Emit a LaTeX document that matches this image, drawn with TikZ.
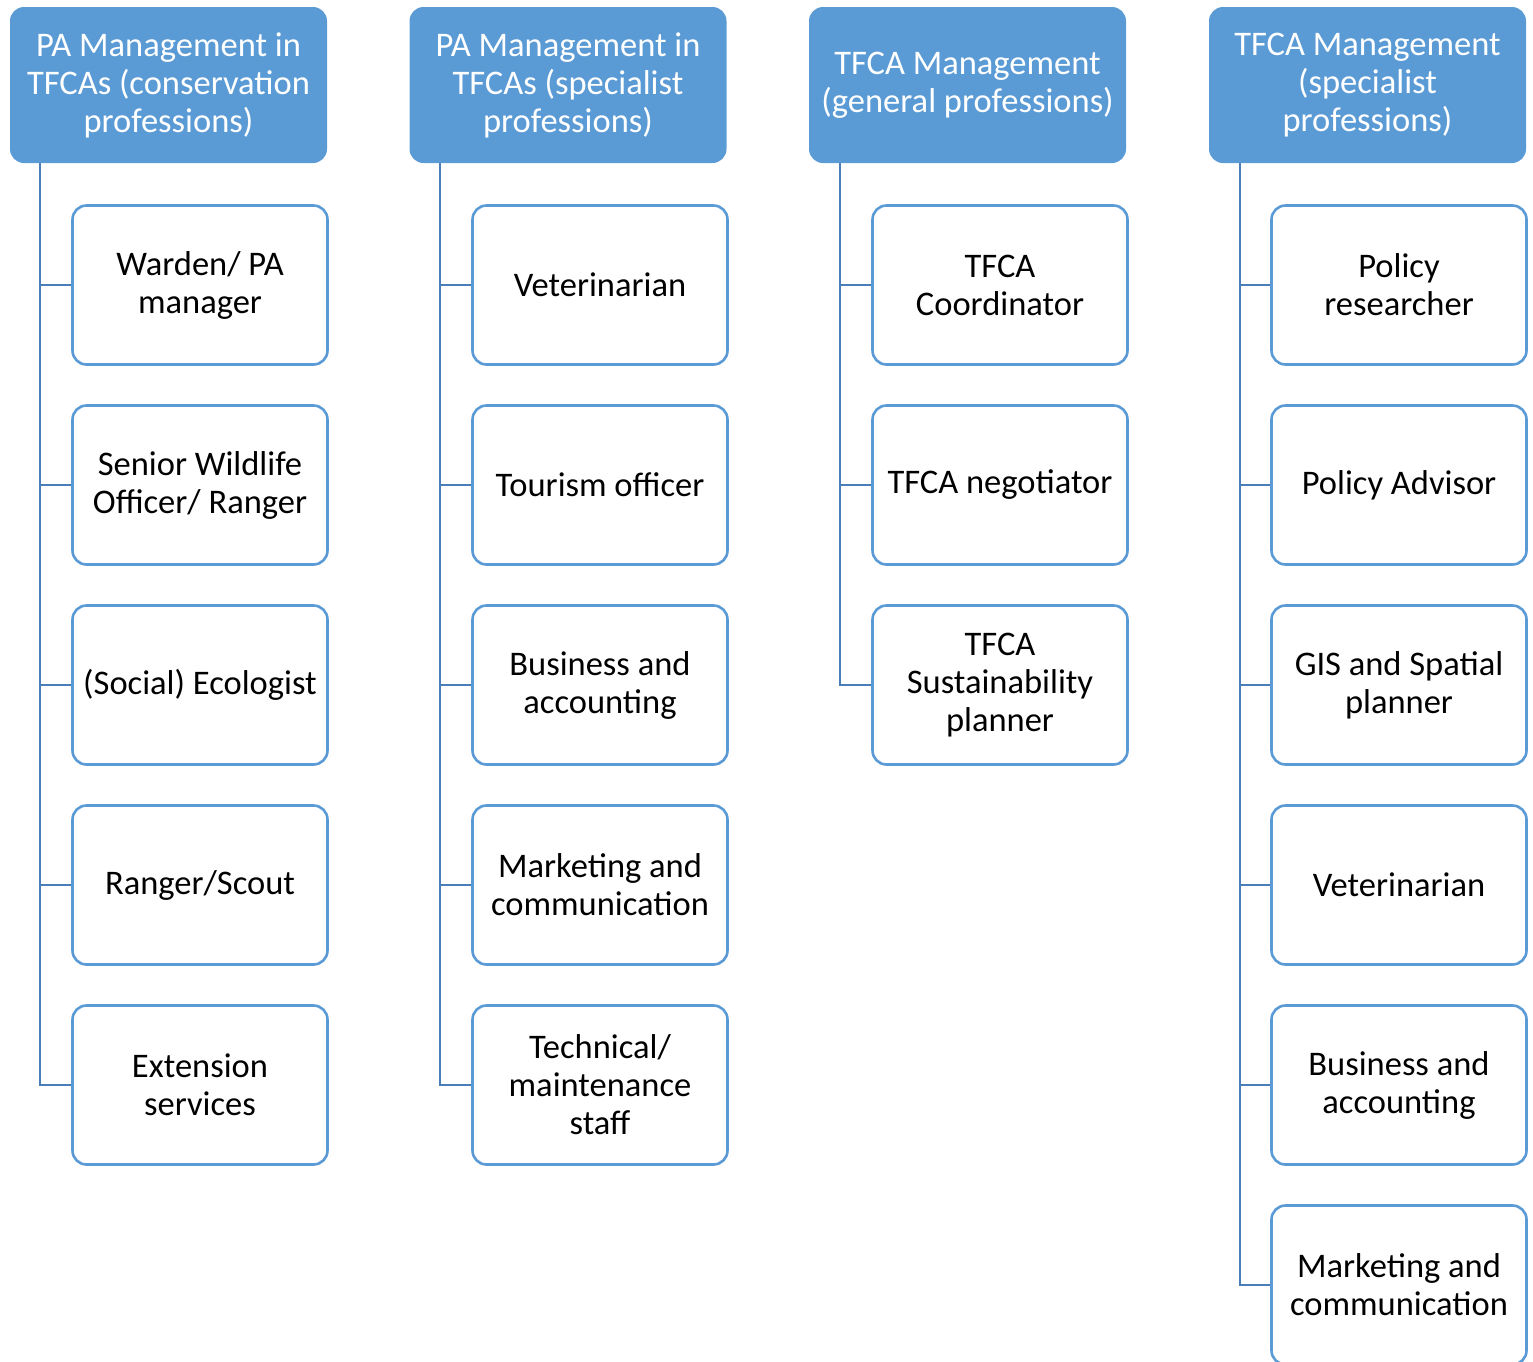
\documentclass[tikz,border=0pt]{standalone}
\usepackage{fontspec}
\setmainfont{Carlito}
\begin{document}
\begin{tikzpicture}[x=1pt,y=-1pt,
  hdr/.style={draw=none,fill=hdrblue,rounded corners=14pt,minimum width=317pt,minimum height=156pt,
    text=white,align=center,font=\fontsize{34.5}{38}\selectfont,inner sep=0pt},
  item/.style={draw=boxblue,line width=2.6pt,fill=white,rounded corners=14pt,minimum width=255pt,minimum height=159pt,
    align=center,font=\fontsize{34.5}{38}\selectfont,inner sep=0pt},
  conn/.style={draw=lineblue,line width=2.8pt}]
\definecolor{hdrblue}{HTML}{5B9BD5}
\definecolor{boxblue}{HTML}{5B9BD5}
\definecolor{lineblue}{HTML}{4A7EBB}
\useasboundingbox (0,0) rectangle (1533,1361);
% headers
\node[hdr] (h1) at (168.5,85) {PA Management in\\TFCAs (conservation\\professions)};
\node[hdr] (h2) at (568,85) {PA Management in\\TFCAs (specialist\\professions)};
\node[hdr] (h3) at (967.5,85) {TFCA Management\\(general professions)};
\node[hdr] (h4) at (1367.5,85) {TFCA Management\\(specialist\\professions)};
% column 1
\node[item] (a1) at (200,285) {Warden/ PA\\manager};
\node[item] (a2) at (200,485) {Senior Wildlife\\Officer/ Ranger};
\node[item] (a3) at (200,685) {(Social) Ecologist};
\node[item] (a4) at (200,885) {Ranger/Scout};
\node[item] (a5) at (200,1085) {Extension\\services};
% column 2
\node[item] (b1) at (600,285) {Veterinarian};
\node[item] (b2) at (600,485) {Tourism officer};
\node[item] (b3) at (600,685) {Business and\\accounting};
\node[item] (b4) at (600,885) {Marketing and\\communication};
\node[item] (b5) at (600,1085) {Technical/\\maintenance\\staff};
% column 3
\node[item] (c1) at (1000,285) {TFCA\\Coordinator};
\node[item] (c2) at (1000,485) {TFCA negotiator};
\node[item] (c3) at (1000,685) {TFCA\\Sustainability\\planner};
% column 4
\node[item] (d1) at (1399,285) {Policy\\researcher};
\node[item] (d2) at (1399,485) {Policy Advisor};
\node[item] (d3) at (1399,685) {GIS and Spatial\\planner};
\node[item] (d4) at (1399,885) {Veterinarian};
\node[item] (d5) at (1399,1085) {Business and\\accounting};
\node[item] (d6) at (1399,1285) {Marketing and\\communication};
% connectors
\coordinate (t1) at (40,163);
\coordinate (t2) at (440,163);
\coordinate (t3) at (840,163);
\coordinate (t4) at (1240,163);
\foreach \n in {a1,a2,a3,a4,a5} \draw[conn] (t1) |- (\n.west);
\foreach \n in {b1,b2,b3,b4,b5} \draw[conn] (t2) |- (\n.west);
\foreach \n in {c1,c2,c3} \draw[conn] (t3) |- (\n.west);
\foreach \n in {d1,d2,d3,d4,d5,d6} \draw[conn] (t4) |- (\n.west);
\end{tikzpicture}
\end{document}
